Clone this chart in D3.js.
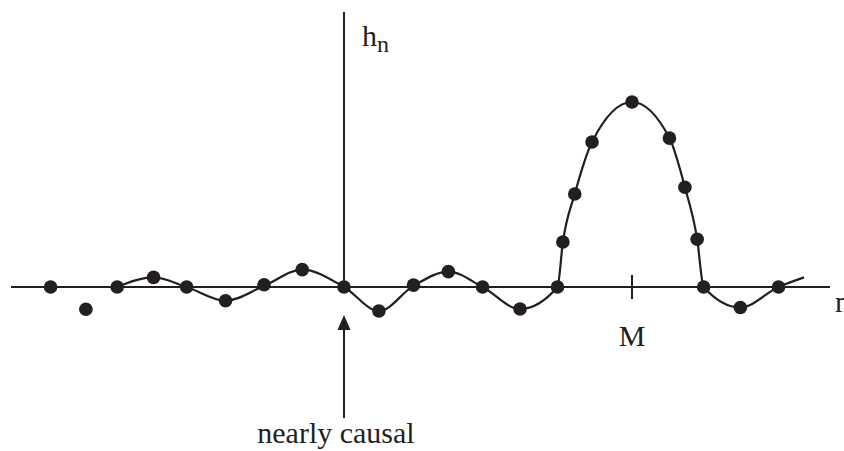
<!DOCTYPE html>
<html>
<head>
<meta charset="utf-8">
<script src="https://cdn.jsdelivr.net/npm/d3@7"></script>
<style>
  html, body { margin: 0; padding: 0; background: #fff; }
  svg { display: block; }
  text { font-family: "Liberation Serif", "Times New Roman", serif; fill: #231f20; }
</style>
</head>
<body>
<script>
// Sampled impulse response h[n] (dots) and the underlying continuous response (line).
const nDots = [-8.15, -7.17, -6.3, -5.29, -4.37, -3.29, -2.22, -1.16, 0, 0.97, 1.93, 2.9, 3.85, 4.89,
               5.93, 6.08, 6.41, 6.89, 8.0, 9.04, 9.47, 9.81, 9.99, 11.01, 12.07];
const hDots = [0, -0.12, 0, 0.052, 0, -0.074, 0.012, 0.094, 0, -0.13, 0.01, 0.083, 0, -0.119,
               0, 0.243, 0.503, 0.784, 1.0, 0.805, 0.539, 0.258, 0, -0.111, 0];

const nCurve = [-6.3, -5.29, -4.37, -3.29, -2.22, -1.16, 0, 0.97, 1.93, 2.9, 3.85, 4.89,
                5.93, 6.08, 6.41, 6.89, 8.0, 9.04, 9.47, 9.81, 9.99, 11.01, 12.07, 12.78];
const hCurve = [0, 0.052, 0, -0.074, 0.006, 0.094, 0, -0.13, 0.006, 0.083, 0, -0.119,
                0, 0.243, 0.503, 0.784, 1.0, 0.805, 0.539, 0.258, 0, -0.111, 0, 0.052];

const nRange = [-9.25, 13.5];   // extent of the n axis
const hTop = 1.486;             // top of the h axis
const markN = 8;                // position of the M tick
const arrowN = 0;               // "nearly causal" pointer
const labels = { h: "h", sub: "n", n: "n", M: "M", causal: "nearly causal" };

const W = 844, H = 451, ink = "#231f20";
const svg = d3.select("body").append("svg").attr("width", W).attr("height", H);

const x = d3.scaleLinear().domain([0, 8]).range([344, 632]);
const y = d3.scaleLinear().domain([0, 1]).range([287, 102]);

// axes
svg.append("line")
  .attr("x1", x(nRange[0])).attr("x2", x(nRange[1]))
  .attr("y1", y(0)).attr("y2", y(0))
  .attr("stroke", ink).attr("stroke-width", 2);
svg.append("line")
  .attr("x1", x(0)).attr("x2", x(0))
  .attr("y1", y(0)).attr("y2", y(hTop))
  .attr("stroke", ink).attr("stroke-width", 2);

// M tick
svg.append("line")
  .attr("x1", x(markN)).attr("x2", x(markN))
  .attr("y1", y(0) - 12).attr("y2", y(0) + 12)
  .attr("stroke", ink).attr("stroke-width", 2);

// continuous response
const pts = nCurve.map((n, i) => [n, hCurve[i]]);
const line = d3.line().x(d => x(d[0])).y(d => y(d[1])).curve(d3.curveMonotoneX);
svg.append("path").attr("d", line(pts))
  .attr("fill", "none").attr("stroke", ink).attr("stroke-width", 2.2);

// samples
svg.selectAll("circle.s").data(nDots.map((n, i) => [n, hDots[i]]))
  .join("circle").attr("class", "s")
  .attr("cx", d => x(d[0])).attr("cy", d => y(d[1])).attr("r", 6.8)
  .attr("fill", ink);

// pointer arrow
const ax = x(arrowN);
svg.append("line").attr("x1", ax).attr("x2", ax).attr("y1", 418).attr("y2", 328)
  .attr("stroke", ink).attr("stroke-width", 2);
svg.append("path")
  .attr("d", `M${ax},315 L${ax - 6.5},330 L${ax + 6.5},330 Z`)
  .attr("fill", ink);

// labels
const hl = svg.append("text").attr("x", 362).attr("y", 46).attr("font-size", 30);
hl.append("tspan").text(labels.h);
hl.append("tspan").attr("font-size", 24).attr("dy", 6).text(labels.sub);

svg.append("text").attr("x", 835).attr("y", 312).attr("font-size", 30).text(labels.n);
svg.append("text").attr("x", x(markN)).attr("y", 346).attr("font-size", 30)
  .attr("text-anchor", "middle").text(labels.M);
svg.append("text").attr("x", ax - 8).attr("y", 443).attr("font-size", 30)
  .attr("text-anchor", "middle").text(labels.causal);
</script>
</body>
</html>
